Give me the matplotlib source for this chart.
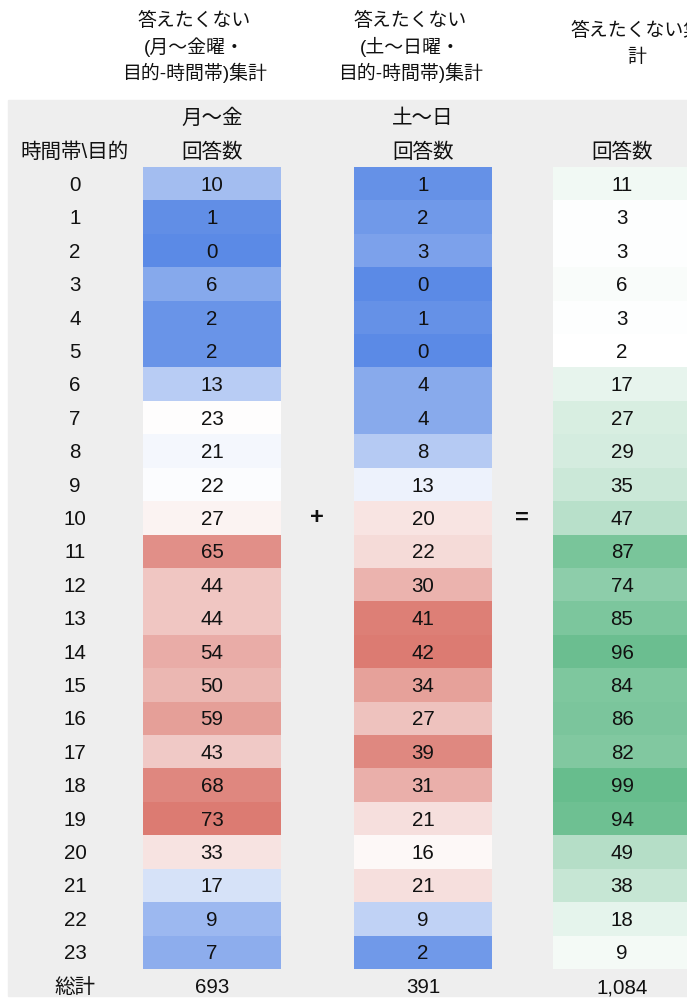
import numpy as np
import matplotlib
matplotlib.use("Agg")
import matplotlib.pyplot as plt
from matplotlib.colors import LinearSegmentedColormap, TwoSlopeNorm, Normalize
from matplotlib.patches import Rectangle

plt.rcParams['font.family'] = ['Liberation Sans', 'Noto Sans CJK JP', 'DejaVu Sans']

# data
hours = [str(h) for h in range(24)]
weekday = [10, 1, 0, 6, 2, 2, 13, 23, 21, 22, 27, 65, 44, 44, 54, 50, 59, 43, 68, 73, 33, 17, 9, 7]
weekend = [1, 2, 3, 0, 1, 0, 4, 4, 8, 13, 20, 22, 30, 41, 42, 34, 27, 39, 31, 21, 16, 21, 9, 2]
total = [11, 3, 3, 6, 3, 2, 17, 27, 29, 35, 47, 87, 74, 85, 96, 84, 86, 82, 99, 94, 49, 38, 18, 9]

titles = ["答えたくない\n(月〜金曜・\n目的-時間帯)集計",
          "答えたくない\n(土〜日曜・\n目的-時間帯)集計",
          "答えたくない集\n計"]
sub_headers = ["月〜金", "土〜日", ""]
col_header = "回答数"
row_header = "時間帯\\目的"
total_label = "総計"

# layout (pixels)
W, H = 687, 1001
ROW_TOP = 167.3
ROW_H = 33.4
COL_W = 138
col_left = [143, 354, 553]
title_x = [194, 410, 637]
label_x = 75
TXT = '#111111'
FS = 14.8
DY = 1.5  # small nudge down so glyphs sit like the sheet's

blue_red = LinearSegmentedColormap.from_list('bwr_sheet', ['#5b8ae6', '#ffffff', '#dc7b72'])
white_green = LinearSegmentedColormap.from_list('wg_sheet', ['#ffffff', '#67bd8d'])

fig = plt.figure(figsize=(W / 100, H / 100), dpi=100)
ax = fig.add_axes([0, 0, 1, 1])
ax.set_xlim(0, W)
ax.set_ylim(H, 0)
ax.axis('off')

# grey sheet area
ax.add_patch(Rectangle((8, 100), W, 896, color='#eeeeee', zorder=0))

columns = [
    (weekday, blue_red, TwoSlopeNorm(vmin=min(weekday), vcenter=np.median(weekday), vmax=max(weekday))),
    (weekend, blue_red, TwoSlopeNorm(vmin=min(weekend), vcenter=np.median(weekend), vmax=max(weekend))),
    (total, white_green, Normalize(vmin=min(total), vmax=max(total))),
]

n = len(hours)
bottom = ROW_TOP + n * ROW_H
for k, (vals, cmap, norm) in enumerate(columns):
    x0 = col_left[k]
    xc = x0 + COL_W / 2
    ax.imshow(np.array(vals, dtype=float)[:, None], cmap=cmap, norm=norm, aspect='auto',
              interpolation='nearest', extent=[x0, x0 + COL_W, bottom, ROW_TOP], zorder=1)
    for i, v in enumerate(vals):
        ax.text(xc, ROW_TOP + (i + 0.5) * ROW_H + DY, str(v), ha='center', va='center',
                fontsize=FS, color=TXT, zorder=3)
    ax.text(xc, 986 + DY, f"{sum(vals):,}", ha='center', va='center', fontsize=FS, color=TXT)
    ax.text(xc, 151 + DY, col_header, ha='center', va='center', fontsize=FS, color=TXT)
    if sub_headers[k]:
        ax.text(xc, 117 + DY, sub_headers[k], ha='center', va='center', fontsize=FS, color=TXT)

    # titles above the sheet, one line at a time
    lines = titles[k].split('\n')
    y_first = 21 if len(lines) == 3 else 31
    for j, line in enumerate(lines):
        ax.text(title_x[k], y_first + j * 26, line, ha='center', va='center',
                fontsize=13.6, color=TXT)

for i, h in enumerate(hours):
    ax.text(label_x, ROW_TOP + (i + 0.5) * ROW_H + DY, h, ha='center', va='center',
            fontsize=FS, color=TXT)
ax.text(label_x, 151 + DY, row_header, ha='center', va='center', fontsize=FS, color=TXT)
ax.text(label_x, 986 + DY, total_label, ha='center', va='center', fontsize=FS, color=TXT)

mid_y = ROW_TOP + 10.5 * ROW_H
ax.text(317, mid_y, "+", ha='center', va='center', fontsize=17, fontweight='bold', color=TXT)
ax.text(522, mid_y, "=", ha='center', va='center', fontsize=17, fontweight='bold', color=TXT)

fig.savefig('out.png', dpi=100, facecolor='white')
